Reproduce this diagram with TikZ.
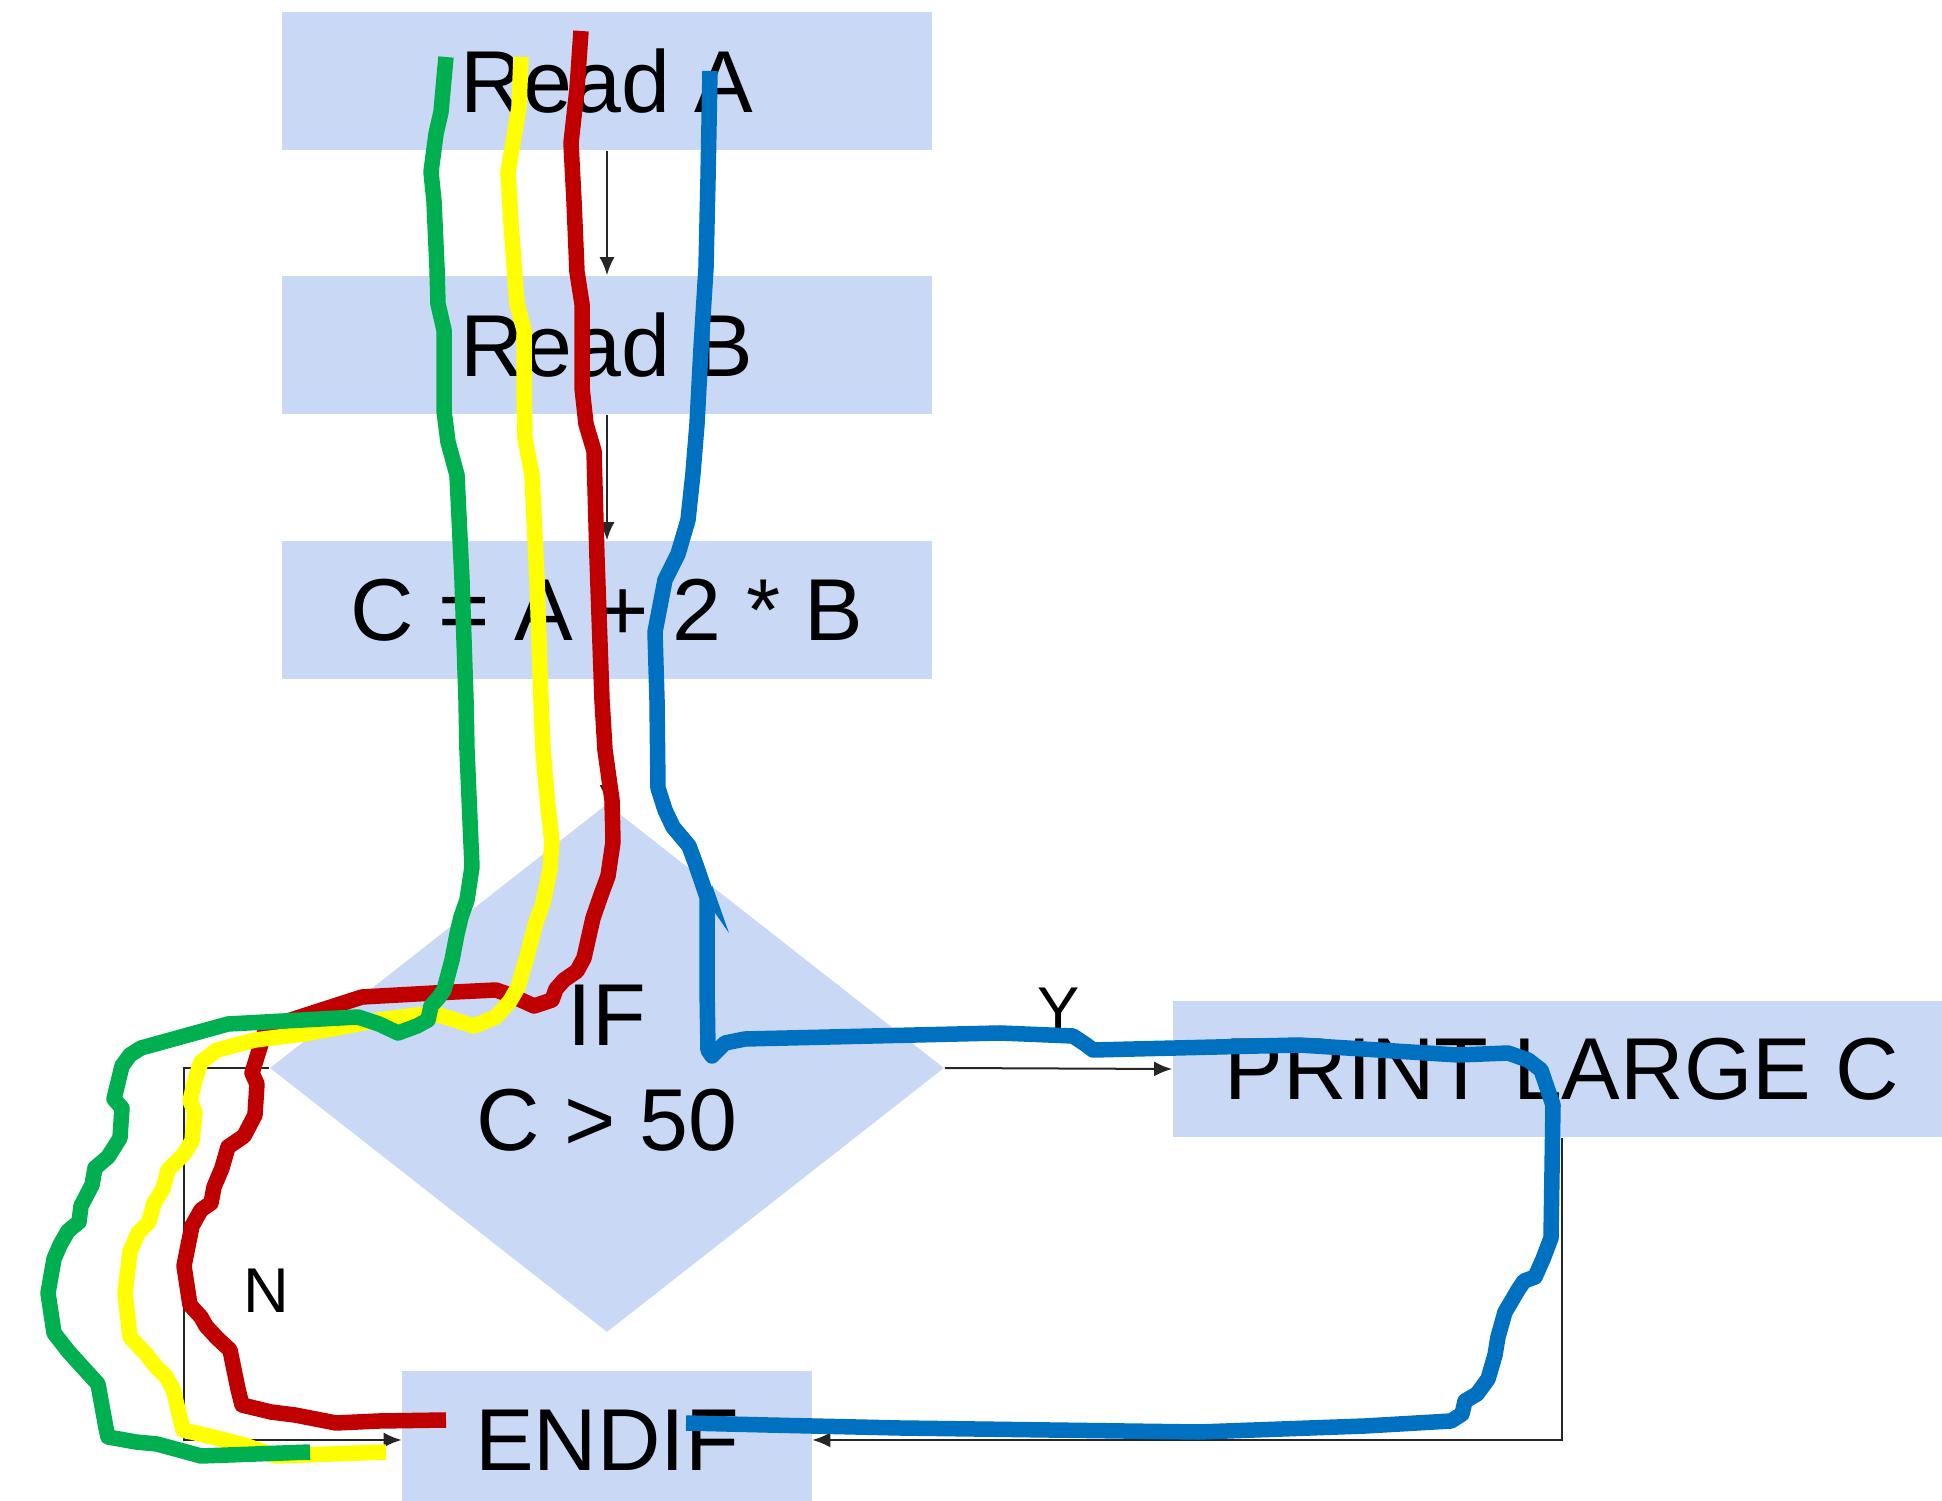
\documentclass[tikz,border=0pt]{standalone}
\usepackage{fontspec}
\setmainfont{Liberation Sans}
\usetikzlibrary{shapes.geometric,arrows.meta,positioning}

\definecolor{boxblue}{RGB}{201,217,245}
\definecolor{penred}{RGB}{192,0,0}
\definecolor{pengreen}{RGB}{0,176,80}
\definecolor{penyellow}{RGB}{255,255,0}
\definecolor{penblue}{RGB}{0,112,192}
\newcommand{\flowfont}{\fontsize{25}{30}\selectfont}
\newcommand{\tagfont}{\fontsize{18}{21}\selectfont}

\begin{document}
\begin{tikzpicture}[
			x = 0.01cm, y = -0.01cm,
			stepbox/.style = {fill=boxblue, minimum width=6.49cm, minimum height=1.38cm, inner sep=0pt, font=\flowfont},
			decision/.style = {diamond, fill=boxblue, aspect=1.277, minimum width=6.74cm, minimum height=5.28cm, inner sep=0pt, align=center, font=\flowfont},
			flow/.style = {draw=black!85, line width=0.02cm, -{Latex[length=0.18cm,width=0.15cm]}},
			tag/.style = {inner sep=0pt, font=\tagfont},
			pen/.style = {line width=0.155cm, line join=round}
			]

			\useasboundingbox (0,0) rectangle (1942,1501);
			\clip (0,0) rectangle (1942,1501);

			% flowchart
			\node[stepbox] (readA) at (607,81) {Read A};
			\node[stepbox] (readB) at (607,345) {Read B};
			\node[stepbox] (calc) at (607,610) {C = A + 2 * B};
			\node[decision] (cond) at (607,1068) {IF\\C > 50};
			\node[stepbox, minimum width=7.78cm, minimum height=1.36cm] (printC) at (1562,1069) {PRINT LARGE C};
			\node[stepbox, minimum width=4.09cm] (endif) at (607,1440) {ENDIF};

			\draw[flow] (readA) -- (readB);
			\draw[flow] (readB) -- (calc);
			\draw[flow] (calc) -- (cond);
			\draw[flow] (cond.east) -- (printC.west) node[tag, midway, above=0.36cm] {Y};
			\draw[flow] (cond.west) -- ++(-85,0) |- (endif.west) node[tag, pos=0.3, right=0.58cm] {N};
			\draw[flow] (printC.south) |- (endif.east);

			% pen traces
			\draw[pen, penblue] (710,71) -- (708,179) -- (706,268) -- (701,348) -- (697,424) -- (693,473) -- (688,520) -- (678,554) -- (665,580) -- (655,632) -- (657,700) -- (658,788) -- (665,810) -- (673,827) -- (689,846) -- (696,865) -- (707,897) -- (707,987) -- (708,1050) -- (712,1056) -- (725,1043) -- (745,1039) -- (1000,1033) -- (1073,1036) -- (1085,1044) -- (1093,1050) -- (1299,1045) -- (1458,1055) -- (1508,1053) -- (1528,1060) -- (1541,1070) -- (1553,1105) -- (1551,1238) -- (1543,1259) -- (1535,1277) -- (1524,1281) -- (1518,1290) -- (1511,1302) -- (1505,1312) -- (1498,1337) -- (1495,1355) -- (1488,1379) -- (1477,1394) -- (1465,1401) -- (1462,1414) -- (1451,1421) -- (1365,1426) -- (1199,1432) -- (900,1428) -- (768,1425) -- (686,1423);
			\fill[penblue] (712,885) -- (729,933) -- (713,910) -- cycle;

			\draw[pen, penred] (581,31) -- (577,89) -- (571,143) -- (574,201) -- (577,272) -- (582,304) -- (582,388) -- (586,424) -- (594,451) -- (597,558) -- (602,700) -- (605,750) -- (612,800) -- (613,842) -- (608,876) -- (601,895) -- (593,918) -- (584,958) -- (577,971) -- (564,980) -- (556,989) -- (552,1000) -- (534,1006) -- (510,995) -- (496,990) -- (434,993) -- (362,997) -- (266,1028) -- (252,1073) -- (257,1084) -- (255,1115) -- (244,1136) -- (228,1147) -- (222,1168) -- (214,1187) -- (211,1203) -- (201,1210) -- (192,1226) -- (184,1266) -- (190,1305) -- (201,1317) -- (206,1326) -- (217,1338) -- (230,1350) -- (238,1389) -- (242,1405) -- (271,1412) -- (295,1415) -- (336,1423) -- (379,1421) -- (446,1420);

			\draw[pen, penyellow] (521,57) -- (519,107) -- (513,143) -- (508,172) -- (511,223) -- (515,277) -- (517,304) -- (524,330) -- (524,388) -- (525,438) -- (532,475) -- (537,580) -- (541,700) -- (543,750) -- (548,807) -- (552,842) -- (550,869) -- (543,903) -- (536,922) -- (528,953) -- (518,987) -- (510,1001) -- (496,1017) -- (474,1026) -- (439,1015) -- (417,1015) -- (379,1020) -- (304,1034) -- (255,1040) -- (217,1050) -- (201,1062) -- (195,1080) -- (190,1101) -- (195,1112) -- (192,1141) -- (184,1154) -- (168,1170) -- (163,1189) -- (154,1203) -- (149,1222) -- (138,1233) -- (130,1252) -- (125,1293) -- (130,1337) -- (146,1354) -- (157,1368) -- (165,1375) -- (173,1389) -- (183,1430) -- (217,1438) -- (244,1445) -- (276,1456) -- (386,1452);

			\draw[pen, pengreen] (446,57) -- (441,112) -- (436,134) -- (431,172) -- (434,201) -- (437,268) -- (438,304) -- (444,330) -- (444,411) -- (448,442) -- (457,475) -- (462,580) -- (466,700) -- (467,750) -- (472,867) -- (467,900) -- (461,917) -- (457,934) -- (452,960) -- (444,990) -- (439,997) -- (431,1006) -- (428,1020) -- (417,1026) -- (398,1033) -- (379,1024) -- (358,1017) -- (228,1024) -- (141,1048) -- (130,1055) -- (122,1066) -- (114,1099) -- (122,1108) -- (120,1138) -- (108,1157) -- (95,1168) -- (92,1185) -- (81,1206) -- (79,1222) -- (68,1231) -- (60,1245) -- (54,1259) -- (48,1293) -- (54,1333) -- (68,1351) -- (87,1372) -- (98,1384) -- (106,1428) -- (108,1437) -- (136,1442) -- (157,1444) -- (201,1456) -- (310,1452);

		\end{tikzpicture}
\end{document}
